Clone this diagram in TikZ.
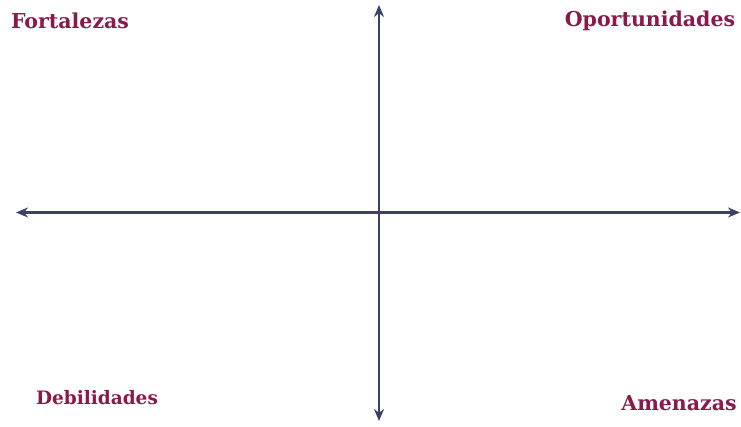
\documentclass[tikz,border=0pt]{standalone}
\usepackage{fontspec}
\setmainfont{DejaVu Serif}
\usetikzlibrary{arrows.meta}
\definecolor{lbl}{HTML}{8A1A4C}
\definecolor{axis}{HTML}{3B4262}
\tikzset{
  lab/.style={text=lbl, font=\fontsize{20.5}{22}\selectfont\bfseries, inner sep=0pt},
  axisline/.style={draw=axis, line width=2.4pt, {Stealth[length=12pt,width=10pt]}-{Stealth[length=12pt,width=10pt]}}
}
\begin{document}
\begin{tikzpicture}[x=1pt,y=1pt]
\useasboundingbox[fill=white] (0,0) rectangle (741,427);
\coordinate (L) at (16,214.5);
\coordinate (R) at (740,214.5);
\coordinate (T) at (379,422);
\coordinate (B) at (379,6);
\draw[axisline] (L) -- (R);
\draw[axisline] (B) -- (T);
\node[lab] (f) at (70,406) {Fortalezas};
\node[lab] (o) at (650,406) {Oportunidades};
\node[lab, font=\fontsize{18.5}{20}\selectfont\bfseries] (d) at (97,29) {Debilidades};
\node[lab] (a) at (679,24) {Amenazas};
\end{tikzpicture}
\end{document}
